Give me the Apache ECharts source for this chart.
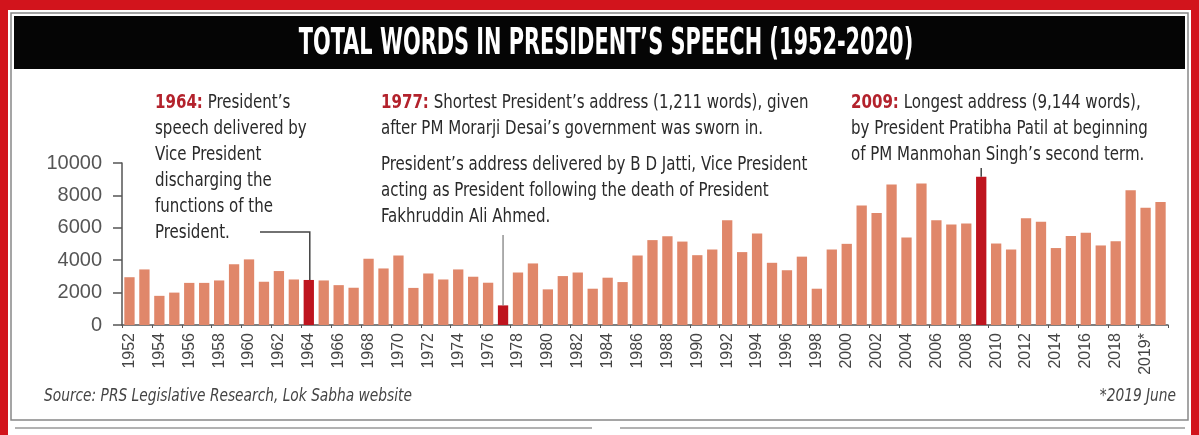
<!DOCTYPE html>
<html>
<head>
<meta charset="utf-8">
<script src="https://cdn.jsdelivr.net/npm/echarts@6/dist/echarts.min.js"></script>
<style>
html,body{margin:0;padding:0;background:#fff;}
#chart{width:1199px;height:435px;}
</style>
</head>
<body>
<div id="chart"></div>
<script>
const years = ['1952','1953','1954','1955','1956','1957','1958','1959','1960','1961',
'1962','1963','1964','1965','1966','1967','1968','1969','1970','1971',
'1972','1973','1974','1975','1976','1977','1978','1979','1980','1981',
'1982','1983','1984','1985','1986','1987','1988','1989','1990','1991',
'1992','1993','1994','1995','1996','1997','1998','1999','2000','2001',
'2002','2003','2004','2005','2006','2007','2008','2009','2010','2011',
'2012','2013','2014','2015','2016','2017','2018','2019','2019*','2020'];
const words = [2950,3430,1800,2000,2600,2600,2750,3750,4050,2670,
3330,2810,2780,2750,2460,2300,4090,3490,4290,2290,
3180,2810,3430,2980,2610,1211,3240,3800,2200,3020,
3240,2240,2920,2650,4290,5240,5480,5150,4310,4660,
6470,4500,5650,3840,3380,4220,2240,4660,5010,7370,
6920,8670,5400,8730,6470,6200,6260,9144,5030,4660,
6590,6370,4750,5490,5690,4910,5170,8320,7230,7600];
const highlighted = ['1964','1977','2009'];

const title = "TOTAL WORDS IN PRESIDENT\u2019S SPEECH (1952-2020)";
const note1964 = ["President\u2019s","speech delivered by","Vice President","discharging the","functions of the","President."];
const note1977 = ["Shortest President\u2019s address (1,211 words), given","after PM Morarji Desai\u2019s government was sworn in."];
const note1977b = ["President\u2019s address delivered by B D Jatti, Vice President","acting as President following the death of President","Fakhruddin Ali Ahmed."];
const note2009 = ["Longest address (9,144 words),","by President Pratibha Patil at beginning","of PM Manmohan Singh\u2019s second term."];
const sourceText = "Source: PRS Legislative Research, Lok Sabha website";
const footText = "*2019 June";

const BAR = '#e0876a', RED = '#be141e', YEAR = '#b3222c', TXT = '#2a2a2a', AX = '#555';
const NARROW = "'Liberation Sans Narrow','DejaVu Sans Condensed',sans-serif";
const SX = 0.88;

const chart = echarts.init(document.getElementById('chart'));

const data = words.map((v,i)=> highlighted.indexOf(years[i]) >= 0 ? {value:v, itemStyle:{color:RED}} : v);

function lineTexts(x, y0, lines, year){
  const out = [];
  lines.forEach((s,i)=>{
    const txt = (i === 0 && year) ? '{y|' + year + ':} ' + s : s;
    out.push({type:'text', x:x, y:y0 + i*26, z:10, scaleX:SX,
      style:{text:txt, fill:TXT, font:'19px ' + NARROW, verticalAlign:'middle', textVerticalAlign:'middle',
        rich:{y:{fill:YEAR, fontWeight:'bold', fontSize:19, fontFamily:NARROW}}}});
  });
  return out;
}

const graphics = [
  {type:'rect', shape:{x:0,y:0,width:1199,height:435}, style:{fill:'#d2141c'}, z:-10, silent:true},
  {type:'rect', shape:{x:8,y:10,width:1183,height:425}, style:{fill:'#ffffff'}, z:-9, silent:true},
  {type:'rect', shape:{x:11,y:13,width:1177,height:407}, style:{fill:'none', stroke:'#888', lineWidth:1.5}, z:-8, silent:true},
  {type:'line', shape:{x1:15,y1:428,x2:592,y2:428}, style:{stroke:'#999', lineWidth:1.5}, z:-8, silent:true},
  {type:'line', shape:{x1:620,y1:428,x2:1185,y2:428}, style:{stroke:'#999', lineWidth:1.5}, z:-8, silent:true},
  {type:'rect', shape:{x:14,y:16,width:1171,height:53}, style:{fill:'#050505'}, z:-7, silent:true},
  {type:'text', x:606, y:44, z:5, scaleX:0.61, style:{text:title, fill:'#fff', font:'bold 38px ' + NARROW, align:'center', verticalAlign:'middle', textAlign:'center', textVerticalAlign:'middle'}},
  {type:'text', x:44, y:397, scaleX:0.9, style:{text:sourceText, fill:'#444', font:'italic 17px ' + NARROW, verticalAlign:'middle', textVerticalAlign:'middle'}},
  {type:'text', x:1176, y:397, scaleX:0.9, style:{text:footText, fill:'#444', font:'italic 17px ' + NARROW, align:'right', textAlign:'right', verticalAlign:'middle', textVerticalAlign:'middle'}}
].concat(lineTexts(155,103,note1964,'1964'), lineTexts(381,103,note1977,'1977'), lineTexts(381,165,note1977b,null), lineTexts(851,103,note2009,'2009'));

chart.setOption({
  animation:false,
  grid:{left:122, right:31, top:163, bottom:110},
  xAxis:{type:'category', data:years,
    axisLine:{lineStyle:{color:AX, width:1.5}},
    axisTick:{show:true, length:3, lineStyle:{color:AX}},
    axisLabel:{rotate:90, interval:1, margin:8, color:'#444', fontSize:16, fontFamily:"Arial,'Liberation Sans',sans-serif"}},
  yAxis:{type:'value', min:0, max:10000, interval:2000,
    axisLine:{show:true, lineStyle:{color:AX, width:1.5}},
    axisTick:{show:true, length:9, lineStyle:{color:AX, width:1.5}},
    splitLine:{show:false},
    axisLabel:{margin:20, color:'#555', fontSize:20, fontFamily:"Arial,'Liberation Sans',sans-serif", formatter:(v)=>String(v)}},
  series:[{type:'bar', data:data, barWidth:'69%', itemStyle:{color:BAR}}],
  graphic:graphics
});

// leader lines to highlighted bars, positioned through the chart's own scales
function barTop(cat){ const i = years.indexOf(cat); return chart.convertToPixel({xAxisIndex:0, yAxisIndex:0}, [i, words[i]]); }
try {
  const p64 = barTop('1964'), p77 = barTop('1977'), p09 = barTop('2009');
  chart.setOption({graphic:graphics.concat([
    {type:'polyline', z:12, shape:{points:[[260,232],[p64[0]+1,232],[p64[0]+1,p64[1]]]}, style:{fill:null, stroke:'#444', lineWidth:1.5}},
    {type:'line', z:12, shape:{x1:p77[0],y1:235,x2:p77[0],y2:p77[1]}, style:{stroke:'#777', lineWidth:1.2}},
    {type:'line', z:12, shape:{x1:p09[0],y1:168,x2:p09[0],y2:p09[1]}, style:{stroke:'#444', lineWidth:1.5}}
  ])});
} catch(e) { console.error(e); }
</script>
</body>
</html>
